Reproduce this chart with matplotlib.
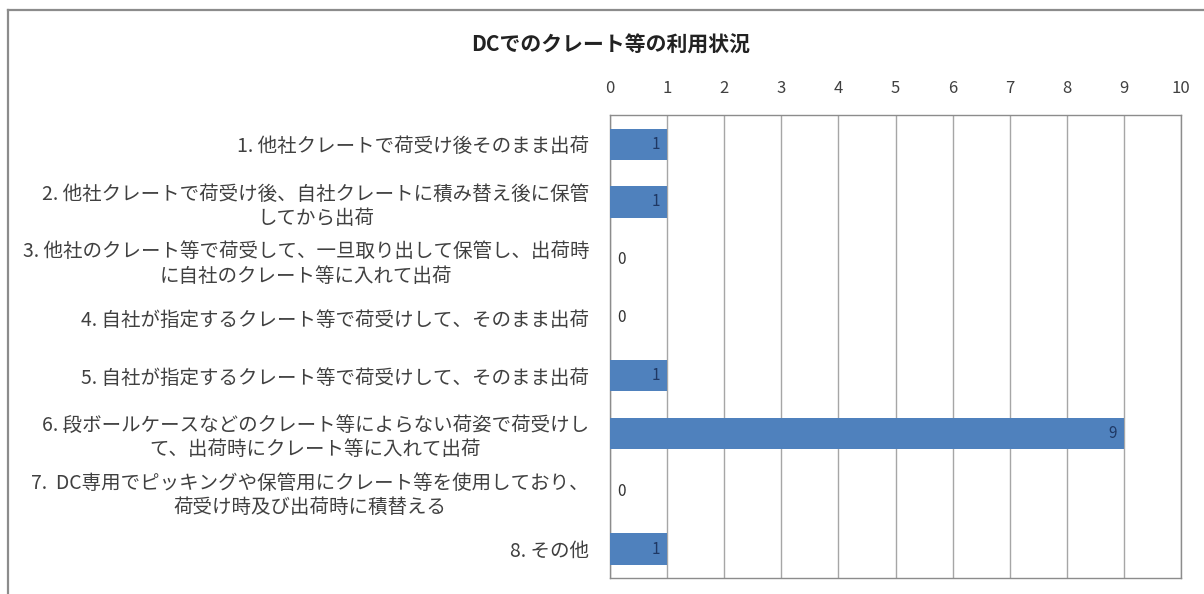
import matplotlib.pyplot as plt
from matplotlib.lines import Line2D

plt.rcParams['font.family'] = ['Noto Sans CJK JP', 'DejaVu Sans']

title = 'DCでのクレート等の利用状況'
labels = [
    '1. 他社クレートで荷受け後そのまま出荷',
    '2. 他社クレートで荷受け後、自社クレートに積み替え後に保管\nしてから出荷',
    '3. 他社のクレート等で荷受して、一旦取り出して保管し、出荷時\nに自社のクレート等に入れて出荷',
    '4. 自社が指定するクレート等で荷受けして、そのまま出荷',
    '5. 自社が指定するクレート等で荷受けして、そのまま出荷',
    '6. 段ボールケースなどのクレート等によらない荷姿で荷受けし\nて、出荷時にクレート等に入れて出荷',
    '7.  DC専用でピッキングや保管用にクレート等を使用しており、\n荷受け時及び出荷時に積替える',
    '8. その他',
]
counts = [1, 1, 0, 0, 1, 9, 0, 1]

fig = plt.figure(figsize=(12.04, 5.94), dpi=100)
ax = fig.add_axes([0.5066, 0.027, 0.4744, 0.779])

pos = list(range(len(labels)))
ax.barh(pos, counts, height=0.54, color='#4F81BD', zorder=3)
ax.set_xlim(0, 10)
ax.set_ylim(len(labels) - 0.5, -0.5)

# data labels
for p, v in zip(pos, counts):
    if v > 0:
        ax.text(v - 0.12, p, str(v), ha='right', va='center', fontsize=11,
                color='#1F3864', zorder=4)
    else:
        ax.text(0.12, p, str(v), ha='left', va='center', fontsize=11,
                color='#333333', zorder=4)

ax.xaxis.tick_top()
ax.set_xticks(range(0, 11))
ax.tick_params(axis='x', length=0, pad=13, labelsize=12, labelcolor='#404040')
ax.set_yticks(pos)
ax.set_yticklabels(labels)
for t in ax.get_yticklabels():
    t.set_multialignment('center')
    t.set_linespacing(1.2)
ax.tick_params(axis='y', length=0, pad=15, labelsize=14, labelcolor='#404040')

ax.grid(axis='x', color='#a6a6a6', lw=1, zorder=0)
ax.grid(axis='y', visible=False)
for s in ax.spines.values():
    s.set_color('#8c8c8c')
    s.set_linewidth(1)

fig.text(0.507, 0.924, title, ha='center', va='center', fontsize=15,
         fontweight='bold', color='#222222')

# outer chart frame
fig.add_artist(Line2D([0.0065, 0.0065], [0, 0.983], transform=fig.transFigure,
                      color='#8c8c8c', lw=1.6))
fig.add_artist(Line2D([0.0065, 1], [0.983, 0.983], transform=fig.transFigure,
                      color='#8c8c8c', lw=1.6))

fig.savefig('out.png', dpi=100)
